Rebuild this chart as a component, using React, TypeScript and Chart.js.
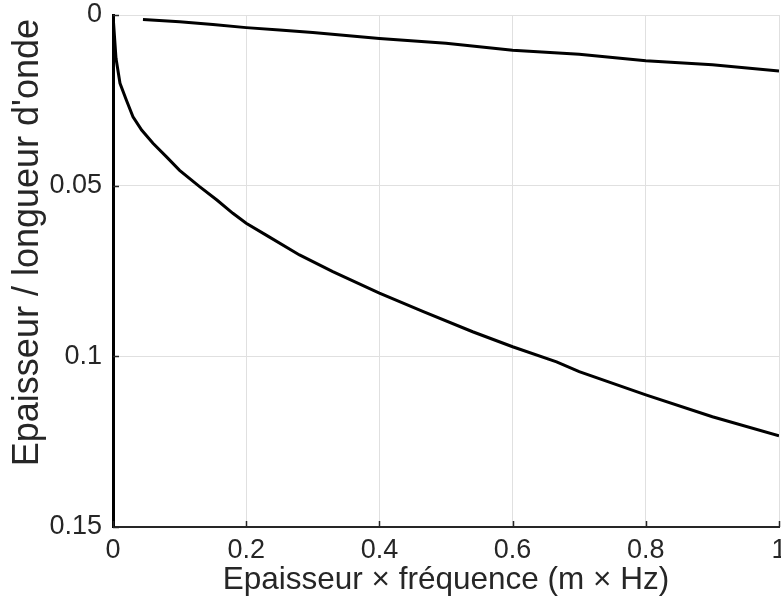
import React, { useEffect, useRef } from "react";
import { Chart, registerables } from "chart.js";

Chart.register(...registerables);

const xTickValues = [0, 0.2, 0.4, 0.6, 0.8, 1];
const yTickValues = [0, 0.05, 0.1, 0.15];

const upperX = [0.045, 0.1, 0.15, 0.2, 0.25, 0.3, 0.4, 0.5, 0.6, 0.7, 0.8, 0.9, 1.0];
const upperY = [0.0013, 0.002, 0.0028, 0.0037, 0.0044, 0.0051, 0.0069, 0.0083, 0.0103, 0.0115, 0.0134, 0.0146, 0.0164];

const lowerX = [0, 0.0045, 0.0105, 0.02, 0.03, 0.043, 0.06, 0.08, 0.1, 0.13, 0.156, 0.18, 0.2, 0.23, 0.28, 0.33, 0.4, 0.466, 0.54, 0.6, 0.666, 0.7, 0.8, 0.9, 1.0];
const lowerY = [0, 0.0127, 0.02, 0.0249, 0.0298, 0.0337, 0.0376, 0.0415, 0.0455, 0.0503, 0.0542, 0.0581, 0.061, 0.0645, 0.0703, 0.0752, 0.0815, 0.0869, 0.0928, 0.0972, 0.1016, 0.1045, 0.1113, 0.1177, 0.1233];

const xTitle = "Epaisseur \u00d7 fr\u00e9quence (m \u00d7 Hz)";
const yTitle = "Epaisseur / longueur d'onde";

const FONT = "'Liberation Sans', Arial, Helvetica, sans-serif";
const TEXT = "#262626";

const fmt = (v: number) => String(+v.toFixed(4));

const inwardTicks = {
  id: "inwardTicks",
  beforeDraw(chart: any) {
    const s = chart.scales.yTitleAxis;
    if (s) s.top = chart.chartArea.top + 4;
  },
  afterDatasetsDraw(chart: any) {
    const { ctx, chartArea, scales } = chart;
    ctx.save();
    ctx.strokeStyle = TEXT;
    ctx.lineWidth = 1.5;
    xTickValues.forEach((v) => {
      const px = Math.round(scales.x.getPixelForValue(v)) + 0.5;
      ctx.beginPath();
      ctx.moveTo(px, chartArea.bottom);
      ctx.lineTo(px, chartArea.bottom - 6);
      ctx.stroke();
    });
    yTickValues.forEach((v) => {
      const py = Math.round(scales.y.getPixelForValue(v)) + 0.5;
      ctx.beginPath();
      ctx.moveTo(chartArea.left, py);
      ctx.lineTo(chartArea.left + 6, py);
      ctx.stroke();
    });
    ctx.restore();
  },
};

export default function App() {
  const canvasRef = useRef<HTMLCanvasElement | null>(null);

  useEffect(() => {
    if (!canvasRef.current) return;
    const chart = new Chart(canvasRef.current, {
      type: "line",
      data: {
        datasets: [
          {
            label: "upper",
            data: upperX.map((x, i) => ({ x, y: upperY[i] })),
            borderColor: "#000000",
            borderWidth: 3,
            pointRadius: 0,
            fill: false,
            tension: 0,
            xAxisID: "x",
            yAxisID: "y",
          },
          {
            label: "lower",
            data: lowerX.map((x, i) => ({ x, y: lowerY[i] })),
            borderColor: "#000000",
            borderWidth: 3,
            pointRadius: 0,
            fill: false,
            tension: 0,
            xAxisID: "x",
            yAxisID: "y",
          },
        ],
      },
      options: {
        animation: false,
        responsive: false,
        maintainAspectRatio: false,
        layout: { padding: { top: 15, right: 2, left: 0, bottom: 0 } },
        plugins: {
          legend: { display: false },
          tooltip: { enabled: false },
        },
        scales: {
          x: {
            type: "linear",
            min: 0,
            max: 1,
            afterBuildTicks: (scale: any) => {
              scale.ticks = xTickValues.map((value) => ({ value }));
            },
            afterFit: (scale: any) => {
              scale.height = 87;
              scale.paddingLeft = 0;
              scale.paddingRight = 0;
            },
            ticks: {
              callback: (v: any) => fmt(Number(v)),
              color: TEXT,
              font: { family: FONT, size: 27 },
              padding: 7,
              maxRotation: 0,
              autoSkip: false,
            },
            grid: {
              color: "#e0e0e0",
              lineWidth: 1,
              drawTicks: false,
            },
            border: { color: TEXT, width: 2 },
            title: {
              display: true,
              text: xTitle,
              color: TEXT,
              font: { family: FONT, size: 31.5 },
              padding: { top: 0, bottom: 15 },
            },
          },
          y: {
            type: "linear",
            position: "left",
            weight: 0,
            min: 0,
            max: 0.15,
            reverse: true,
            afterBuildTicks: (scale: any) => {
              scale.ticks = yTickValues.map((value) => ({ value }));
            },
            afterFit: (scale: any) => {
              scale.width = 65;
              scale.paddingTop = 0;
              scale.paddingBottom = 0;
            },
            ticks: {
              callback: (v: any) => fmt(Number(v)),
              color: TEXT,
              font: { family: FONT, size: 27 },
              padding: 11,
              autoSkip: false,
            },
            grid: {
              color: "#e0e0e0",
              lineWidth: 1,
              drawTicks: false,
            },
            border: { color: "#000000", width: 3 },
          },
          yTitleAxis: {
            type: "linear",
            axis: "y",
            position: "left",
            weight: 10,
            min: 0,
            max: 1,
            afterFit: (scale: any) => {
              scale.width = 48;
              scale.paddingTop = 0;
              scale.paddingBottom = 0;
            },
            ticks: { display: false },
            grid: { display: false, drawOnChartArea: false, drawTicks: false },
            border: { display: false },
            title: {
              display: true,
              text: yTitle,
              color: TEXT,
              align: "end",
              font: { family: FONT, size: 36 },
              padding: { top: 6, bottom: 0 },
            },
          },
        },
      },
      plugins: [inwardTicks],
    } as any);
    return () => chart.destroy();
  }, []);

  return (
    <div style={{ position: "fixed", left: 0, top: 0, width: 781, height: 614, background: "#ffffff" }}>
      <canvas ref={canvasRef} width={781} height={614} style={{ width: 781, height: 614, display: "block" }} />
    </div>
  );
}
